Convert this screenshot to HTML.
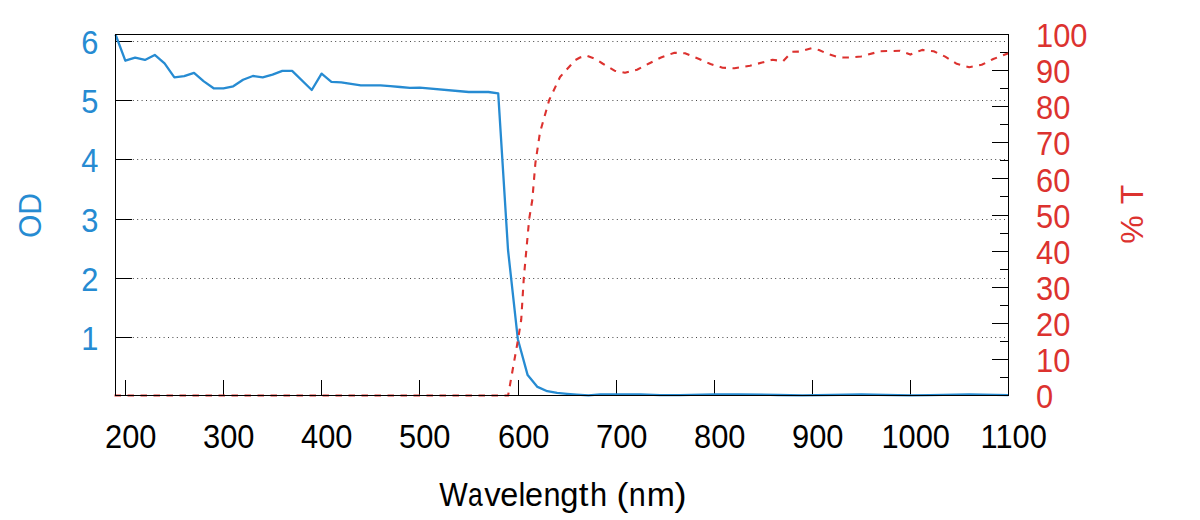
<!DOCTYPE html>
<html><head><meta charset="utf-8"><style>
html,body{margin:0;padding:0;background:#fff;width:1200px;height:520px;overflow:hidden;}
svg{display:block;font-family:"Liberation Sans",sans-serif;}
</style></head><body>
<svg width="1200" height="520" viewBox="0 0 1200 520">
<rect x="0" y="0" width="1200" height="520" fill="#fff"/>
<line x1="115.5" y1="337.50" x2="1008.5" y2="337.50" stroke="#444" stroke-width="1" stroke-dasharray="1,3.4" stroke-dashoffset="0.3"/>
<line x1="115.5" y1="278.50" x2="1008.5" y2="278.50" stroke="#444" stroke-width="1" stroke-dasharray="1,3.4" stroke-dashoffset="0.3"/>
<line x1="115.5" y1="219.50" x2="1008.5" y2="219.50" stroke="#444" stroke-width="1" stroke-dasharray="1,3.4" stroke-dashoffset="0.3"/>
<line x1="115.5" y1="159.50" x2="1008.5" y2="159.50" stroke="#444" stroke-width="1" stroke-dasharray="1,3.4" stroke-dashoffset="0.3"/>
<line x1="115.5" y1="100.50" x2="1008.5" y2="100.50" stroke="#444" stroke-width="1" stroke-dasharray="1,3.4" stroke-dashoffset="0.3"/>
<line x1="115.5" y1="41.50" x2="1008.5" y2="41.50" stroke="#444" stroke-width="1" stroke-dasharray="1,3.4" stroke-dashoffset="0.3"/>
<line x1="115.5" y1="337.50" x2="132.0" y2="337.50" stroke="#000" stroke-width="1"/>
<line x1="115.5" y1="278.50" x2="132.0" y2="278.50" stroke="#000" stroke-width="1"/>
<line x1="115.5" y1="219.50" x2="132.0" y2="219.50" stroke="#000" stroke-width="1"/>
<line x1="115.5" y1="159.50" x2="132.0" y2="159.50" stroke="#000" stroke-width="1"/>
<line x1="115.5" y1="100.50" x2="132.0" y2="100.50" stroke="#000" stroke-width="1"/>
<line x1="115.5" y1="41.50" x2="132.0" y2="41.50" stroke="#000" stroke-width="1"/>
<line x1="125.50" y1="395.5" x2="125.50" y2="380.0" stroke="#000" stroke-width="1"/>
<line x1="223.50" y1="395.5" x2="223.50" y2="380.0" stroke="#000" stroke-width="1"/>
<line x1="321.50" y1="395.5" x2="321.50" y2="380.0" stroke="#000" stroke-width="1"/>
<line x1="419.50" y1="395.5" x2="419.50" y2="380.0" stroke="#000" stroke-width="1"/>
<line x1="518.50" y1="395.5" x2="518.50" y2="380.0" stroke="#000" stroke-width="1"/>
<line x1="616.50" y1="395.5" x2="616.50" y2="380.0" stroke="#000" stroke-width="1"/>
<line x1="714.50" y1="395.5" x2="714.50" y2="380.0" stroke="#000" stroke-width="1"/>
<line x1="812.50" y1="395.5" x2="812.50" y2="380.0" stroke="#000" stroke-width="1"/>
<line x1="910.50" y1="395.5" x2="910.50" y2="380.0" stroke="#000" stroke-width="1"/>
<line x1="1008.50" y1="395.5" x2="1008.50" y2="380.0" stroke="#000" stroke-width="1"/>
<line x1="1008.5" y1="395.50" x2="992.0" y2="395.50" stroke="#000" stroke-width="1"/>
<line x1="1008.5" y1="377.50" x2="1000.0" y2="377.50" stroke="#000" stroke-width="1"/>
<line x1="1008.5" y1="359.50" x2="992.0" y2="359.50" stroke="#000" stroke-width="1"/>
<line x1="1008.5" y1="341.50" x2="1000.0" y2="341.50" stroke="#000" stroke-width="1"/>
<line x1="1008.5" y1="323.50" x2="992.0" y2="323.50" stroke="#000" stroke-width="1"/>
<line x1="1008.5" y1="305.50" x2="1000.0" y2="305.50" stroke="#000" stroke-width="1"/>
<line x1="1008.5" y1="287.50" x2="992.0" y2="287.50" stroke="#000" stroke-width="1"/>
<line x1="1008.5" y1="269.50" x2="1000.0" y2="269.50" stroke="#000" stroke-width="1"/>
<line x1="1008.5" y1="251.50" x2="992.0" y2="251.50" stroke="#000" stroke-width="1"/>
<line x1="1008.5" y1="233.50" x2="1000.0" y2="233.50" stroke="#000" stroke-width="1"/>
<line x1="1008.5" y1="215.50" x2="992.0" y2="215.50" stroke="#000" stroke-width="1"/>
<line x1="1008.5" y1="196.50" x2="1000.0" y2="196.50" stroke="#000" stroke-width="1"/>
<line x1="1008.5" y1="178.50" x2="992.0" y2="178.50" stroke="#000" stroke-width="1"/>
<line x1="1008.5" y1="160.50" x2="1000.0" y2="160.50" stroke="#000" stroke-width="1"/>
<line x1="1008.5" y1="142.50" x2="992.0" y2="142.50" stroke="#000" stroke-width="1"/>
<line x1="1008.5" y1="124.50" x2="1000.0" y2="124.50" stroke="#000" stroke-width="1"/>
<line x1="1008.5" y1="106.50" x2="992.0" y2="106.50" stroke="#000" stroke-width="1"/>
<line x1="1008.5" y1="88.50" x2="1000.0" y2="88.50" stroke="#000" stroke-width="1"/>
<line x1="1008.5" y1="70.50" x2="992.0" y2="70.50" stroke="#000" stroke-width="1"/>
<line x1="1008.5" y1="52.50" x2="1000.0" y2="52.50" stroke="#000" stroke-width="1"/>
<line x1="1008.5" y1="34.50" x2="992.0" y2="34.50" stroke="#000" stroke-width="1"/>
<polyline points="115.50,34.50 125.31,60.70 135.13,57.60 144.94,59.90 154.75,54.90 164.57,63.40 174.38,77.40 184.19,76.20 194.01,72.80 203.82,81.40 213.63,88.30 223.45,88.30 233.26,86.30 243.07,79.80 252.88,76.00 262.70,77.30 272.51,74.60 282.32,70.90 292.14,70.90 311.76,90.00 321.58,73.60 331.39,81.80 341.20,82.30 351.02,83.90 360.83,85.30 380.46,85.30 390.27,86.20 400.08,87.00 409.90,87.90 419.71,87.70 468.77,92.00 488.40,92.00 498.21,93.40 508.03,250.00 517.84,339.20 527.65,375.10 537.47,386.90 547.28,391.20 557.09,392.90 566.91,393.80 576.72,394.60 588.50,395.30 600.27,394.40 615.97,394.30 640.51,394.40 660.13,395.20 679.76,395.20 714.10,394.30 738.64,394.30 777.89,395.00 802.42,395.30 861.30,394.50 910.37,395.30 929.99,395.20 969.25,394.30 1008.50,395.20" fill="none" stroke="#268bd2" stroke-width="2.3" stroke-linejoin="round"/>
<polyline points="114.50,395.50 508.10,395.50 518.10,339.20 521.20,320.00 523.80,278.00 529.20,218.80 532.30,200.00 535.40,163.00 540.00,132.30 549.20,100.00 560.00,77.00 575.40,60.00 580.00,57.50 586.50,55.60 595.00,58.70 602.50,63.50 614.50,70.70 625.00,72.80 637.00,69.80 649.00,63.50 661.00,57.50 674.50,52.70 685.00,53.30 698.50,58.70 710.50,64.00 722.50,67.70 734.50,68.30 750.00,65.75 772.50,59.75 783.00,61.25 792.00,51.80 799.00,51.60 811.50,48.20 819.00,50.00 829.00,54.40 836.00,56.40 843.00,57.50 849.00,57.50 861.00,56.50 880.50,51.20 900.00,50.80 910.30,54.60 922.10,49.90 933.70,51.30 945.20,56.60 956.70,63.80 969.20,67.20 981.70,64.80 993.30,59.00 1008.50,53.30" fill="none" stroke="#dc322f" stroke-width="2.1" stroke-dasharray="6.5,6.5" stroke-linejoin="round"/>
<rect x="115.5" y="34.5" width="893.0" height="361.0" fill="none" stroke="#000" stroke-width="1"/>
<text transform="translate(98.30,350.30) scale(0.94,1)" font-family="Liberation Sans, sans-serif" font-size="32.8" fill="#268bd2" text-anchor="end" >1</text>
<text transform="translate(98.30,291.30) scale(0.94,1)" font-family="Liberation Sans, sans-serif" font-size="32.8" fill="#268bd2" text-anchor="end" >2</text>
<text transform="translate(98.30,232.30) scale(0.94,1)" font-family="Liberation Sans, sans-serif" font-size="32.8" fill="#268bd2" text-anchor="end" >3</text>
<text transform="translate(98.30,172.30) scale(0.94,1)" font-family="Liberation Sans, sans-serif" font-size="32.8" fill="#268bd2" text-anchor="end" >4</text>
<text transform="translate(98.30,113.30) scale(0.94,1)" font-family="Liberation Sans, sans-serif" font-size="32.8" fill="#268bd2" text-anchor="end" >5</text>
<text transform="translate(98.30,54.30) scale(0.94,1)" font-family="Liberation Sans, sans-serif" font-size="32.8" fill="#268bd2" text-anchor="end" >6</text>
<text transform="translate(1036.00,408.10) scale(0.94,1)" font-family="Liberation Sans, sans-serif" font-size="32.8" fill="#dc322f" text-anchor="start" >0</text>
<text transform="translate(1036.00,372.00) scale(0.94,1)" font-family="Liberation Sans, sans-serif" font-size="32.8" fill="#dc322f" text-anchor="start" >10</text>
<text transform="translate(1036.00,335.90) scale(0.94,1)" font-family="Liberation Sans, sans-serif" font-size="32.8" fill="#dc322f" text-anchor="start" >20</text>
<text transform="translate(1036.00,299.80) scale(0.94,1)" font-family="Liberation Sans, sans-serif" font-size="32.8" fill="#dc322f" text-anchor="start" >30</text>
<text transform="translate(1036.00,263.70) scale(0.94,1)" font-family="Liberation Sans, sans-serif" font-size="32.8" fill="#dc322f" text-anchor="start" >40</text>
<text transform="translate(1036.00,227.60) scale(0.94,1)" font-family="Liberation Sans, sans-serif" font-size="32.8" fill="#dc322f" text-anchor="start" >50</text>
<text transform="translate(1036.00,191.50) scale(0.94,1)" font-family="Liberation Sans, sans-serif" font-size="32.8" fill="#dc322f" text-anchor="start" >60</text>
<text transform="translate(1036.00,155.40) scale(0.94,1)" font-family="Liberation Sans, sans-serif" font-size="32.8" fill="#dc322f" text-anchor="start" >70</text>
<text transform="translate(1036.00,119.30) scale(0.94,1)" font-family="Liberation Sans, sans-serif" font-size="32.8" fill="#dc322f" text-anchor="start" >80</text>
<text transform="translate(1036.00,83.20) scale(0.94,1)" font-family="Liberation Sans, sans-serif" font-size="32.8" fill="#dc322f" text-anchor="start" >90</text>
<text transform="translate(1036.00,47.10) scale(0.94,1)" font-family="Liberation Sans, sans-serif" font-size="32.8" fill="#dc322f" text-anchor="start" >100</text>
<text transform="translate(130.70,447.60) scale(0.94,1)" font-family="Liberation Sans, sans-serif" font-size="32.8" fill="#000" text-anchor="middle" >200</text>
<text transform="translate(228.70,447.60) scale(0.94,1)" font-family="Liberation Sans, sans-serif" font-size="32.8" fill="#000" text-anchor="middle" >300</text>
<text transform="translate(326.70,447.60) scale(0.94,1)" font-family="Liberation Sans, sans-serif" font-size="32.8" fill="#000" text-anchor="middle" >400</text>
<text transform="translate(424.70,447.60) scale(0.94,1)" font-family="Liberation Sans, sans-serif" font-size="32.8" fill="#000" text-anchor="middle" >500</text>
<text transform="translate(523.70,447.60) scale(0.94,1)" font-family="Liberation Sans, sans-serif" font-size="32.8" fill="#000" text-anchor="middle" >600</text>
<text transform="translate(621.70,447.60) scale(0.94,1)" font-family="Liberation Sans, sans-serif" font-size="32.8" fill="#000" text-anchor="middle" >700</text>
<text transform="translate(719.70,447.60) scale(0.94,1)" font-family="Liberation Sans, sans-serif" font-size="32.8" fill="#000" text-anchor="middle" >800</text>
<text transform="translate(817.70,447.60) scale(0.94,1)" font-family="Liberation Sans, sans-serif" font-size="32.8" fill="#000" text-anchor="middle" >900</text>
<text transform="translate(915.70,447.60) scale(0.94,1)" font-family="Liberation Sans, sans-serif" font-size="32.8" fill="#000" text-anchor="middle" >1000</text>
<text transform="translate(1013.70,447.60) scale(0.94,1)" font-family="Liberation Sans, sans-serif" font-size="32.8" fill="#000" text-anchor="middle" >1100</text>
<text transform="translate(439.17,505.80) scale(0.9270,1)" font-family="Liberation Sans, sans-serif" font-size="32.5" fill="#000" >W</text>
<text transform="translate(467.98,505.80) scale(0.8146,1)" font-family="Liberation Sans, sans-serif" font-size="32.5" fill="#000" >a</text>
<text transform="translate(484.19,505.80) scale(1.0107,1)" font-family="Liberation Sans, sans-serif" font-size="32.5" fill="#000" >v</text>
<text transform="translate(500.22,505.80) scale(0.9967,1)" font-family="Liberation Sans, sans-serif" font-size="32.5" fill="#000" >e</text>
<text transform="translate(518.53,505.80) scale(0.9452,1)" font-family="Liberation Sans, sans-serif" font-size="32.5" fill="#000" >l</text>
<text transform="translate(525.12,505.80) scale(0.9967,1)" font-family="Liberation Sans, sans-serif" font-size="32.5" fill="#000" >e</text>
<text transform="translate(543.47,505.80) scale(0.9416,1)" font-family="Liberation Sans, sans-serif" font-size="32.5" fill="#000" >n</text>
<text transform="translate(560.33,505.80) scale(1.0058,1)" font-family="Liberation Sans, sans-serif" font-size="32.5" fill="#000" >g</text>
<text transform="translate(578.69,505.80) scale(1.0800,1)" font-family="Liberation Sans, sans-serif" font-size="32.5" fill="#000" >t</text>
<text transform="translate(589.96,505.80) scale(0.9481,1)" font-family="Liberation Sans, sans-serif" font-size="32.5" fill="#000" >h</text>
<text transform="translate(616.38,505.80) scale(1.1025,1)" font-family="Liberation Sans, sans-serif" font-size="32.5" fill="#000" >(</text>
<text transform="translate(628.87,505.80) scale(0.9416,1)" font-family="Liberation Sans, sans-serif" font-size="32.5" fill="#000" >n</text>
<text transform="translate(646.65,505.80) scale(1.0407,1)" font-family="Liberation Sans, sans-serif" font-size="32.5" fill="#000" >m</text>
<text transform="translate(674.59,505.80) scale(1.1141,1)" font-family="Liberation Sans, sans-serif" font-size="32.5" fill="#000" >)</text>
<text transform="translate(41.4,215.5) rotate(-90)" font-family="Liberation Sans, sans-serif" font-size="32" fill="#268bd2" text-anchor="middle" textLength="45" lengthAdjust="spacingAndGlyphs">OD</text>
<text transform="translate(1143.1,214.3) rotate(-90)" font-family="Liberation Sans, sans-serif" font-size="32" fill="#dc322f" text-anchor="middle" textLength="59" lengthAdjust="spacing">% T</text>
</svg>
</body></html>
